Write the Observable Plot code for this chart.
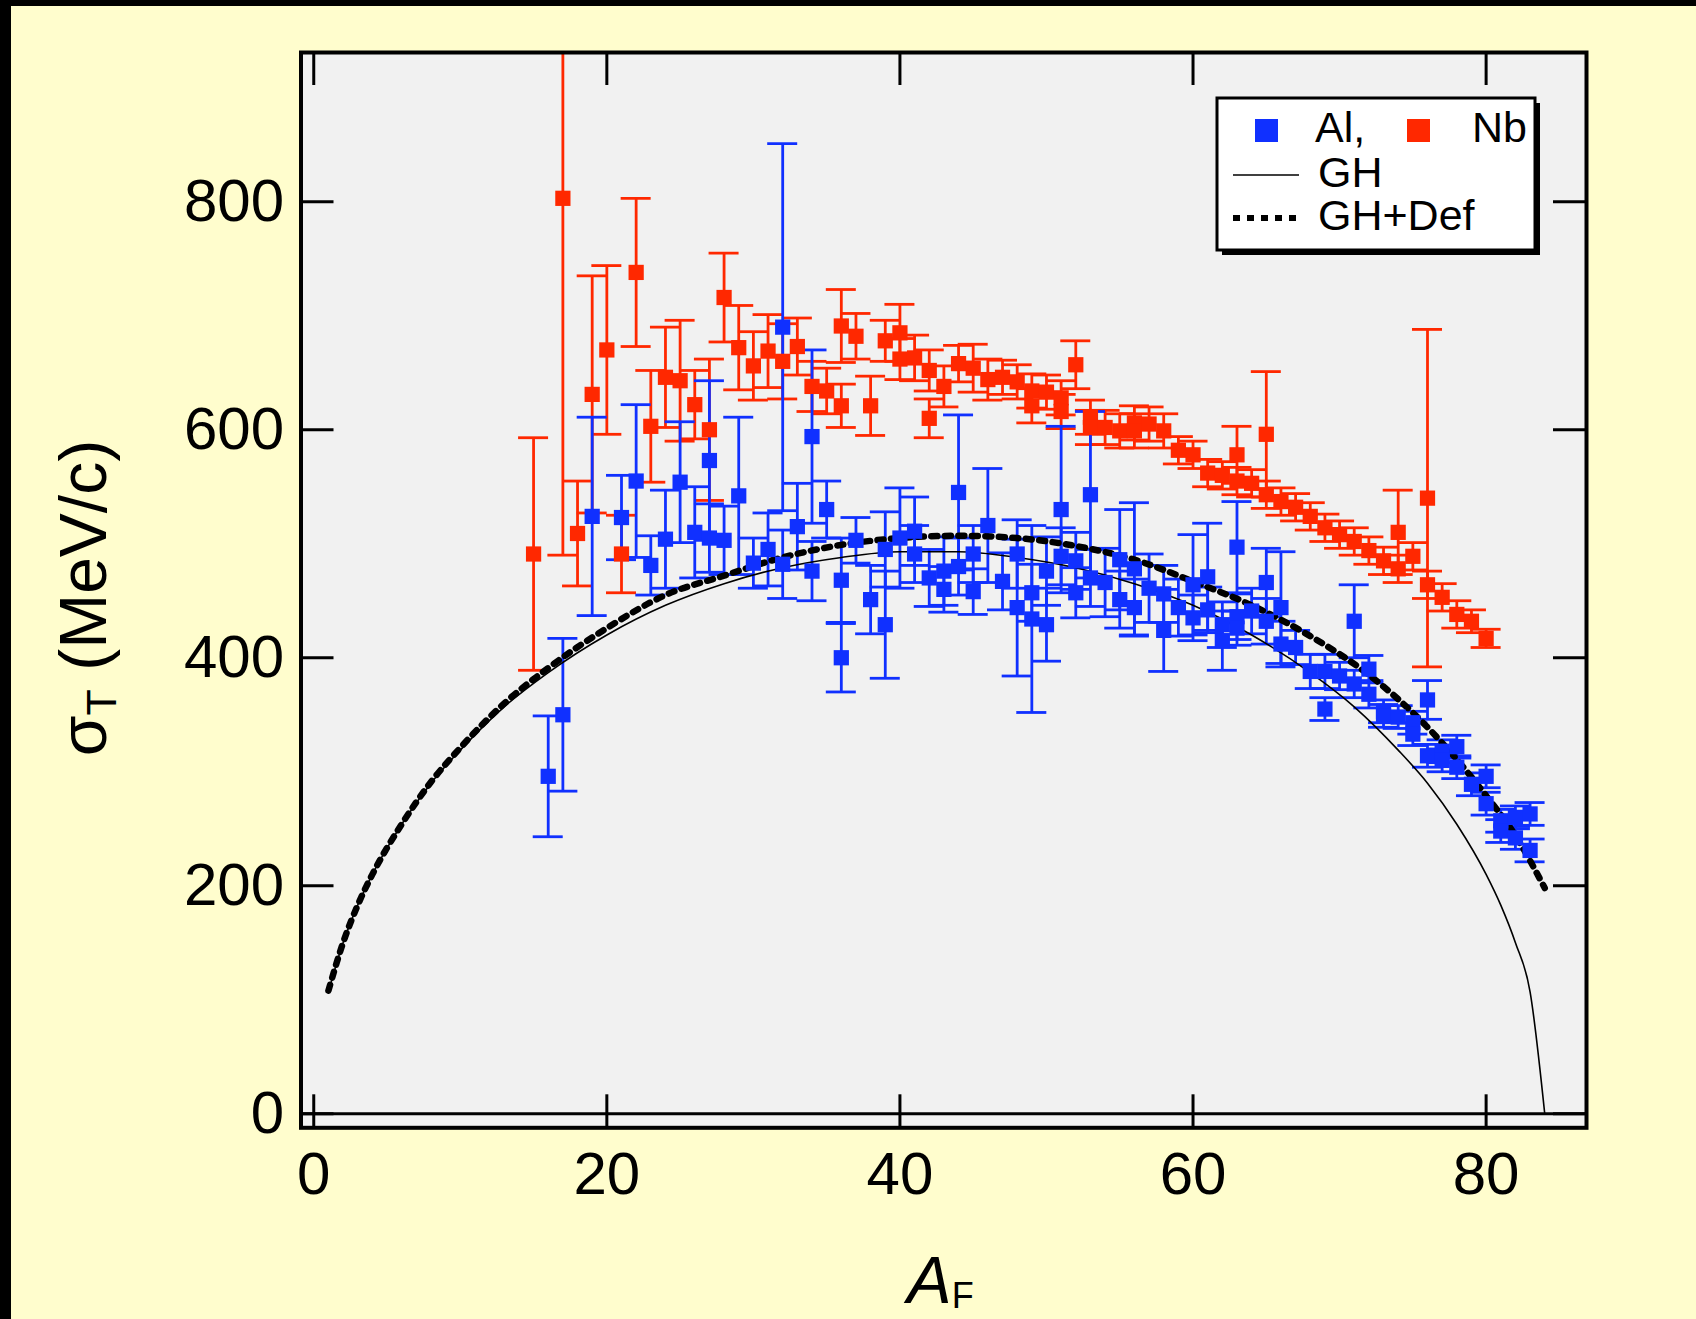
<!DOCTYPE html>
<html><head><meta charset="utf-8">
<script src="https://cdn.jsdelivr.net/npm/d3@7"></script>
<script src="https://cdn.jsdelivr.net/npm/@observablehq/plot@0.6"></script>
<style>
html,body{margin:0;padding:0;}
body{width:1696px;height:1319px;background:#fffdcd;position:relative;overflow:hidden;font-family:"Liberation Sans",Arial,Helvetica,sans-serif;}
#chart{position:absolute;left:0;top:0;}
.bt{position:absolute;left:0;top:0;width:1696px;height:6px;background:#000;}
.bl{position:absolute;left:0;top:0;width:11px;height:1319px;background:#000;}
</style></head><body>
<div id="chart"></div><div class="bt"></div><div class="bl"></div>
<script>
// ---- Data: Al (blue) ----
const alX = [16,17,19,21,22,23,24,25,26,27, 27,28,29,30,31,32,32,33,34,34, 35,36,36,37,38,39,39,40,41,41, 42,43,43,44,44,45,45,46,47,48, 48,49,49,50,50,51,51,52,52,53, 53,54,55,55,56,56,57,58,58,59, 60,60,61,61,62,62,63,63,63,64, 65,65,66,66,67,68,69,69,70,71, 71,72,72,73,73,74,75,75,76,76, 77,77,78,78,79,80,80,81,81,82, 82,83,83];
const alY = [296,350,524,523,555,481,504,554,510,573, 505,503,542,483,495,690,482,515,594,476, 530,400,468,503,451,429,495,505,511,491, 470,476,460,545,480,491,458,516,467,491, 444,457,434,476,429,530,489,485,457,543, 470,466,486,451,478,444,461,456,424,444, 464,435,471,442,429,415,497,436,426,441, 466,432,444,412,409,388,388,355,384,432, 377,390,368,353,349,348,343,333,363,314, 318,310,322,304,289,296,272,257,248,260, 242,263,231];
const alErr = [53,67,87,37,67,26,43,53,40,70, 30,30,69,22,32,161,30,38,76,26, 25,30,37,20,30,47,33,44,30,25, 25,30,20,68,25,25,20,50,25,30, 60,25,82,30,32,73,25,25,22,73, 25,30,44,25,58,25,30,25,36,25, 44,20,47,20,20,26,40,20,15,20, 30,20,49,20,15,15,15,10,12,32, 12,12,12,10,10,10,10,10,17,10, 10,10,10,10,10,10,10,10,10,10, 10,10,10];

// ---- Data: Nb (red) ----
const nbX = [15,17,18,19,20,21,22,23,24,25, 26,27,28,29,30,31,32,33,34,35, 36,36,37,38,39,40,40,41,42,42, 43,44,45,46,47,48,49,49,50,51, 51,52,53,53,54,55,56,56,57,58, 59,60,61,62,63,63,64,65,65,66, 67,68,69,70,71,72,73,74,74,75, 76,76,77,78,79,80];
const nbY = [491,803,509,631,670,491,738,603,646,643, 622,600,716,672,656,669,660,673,638,634, 691,621,682,621,678,685,662,663,652,610, 638,658,654,644,646,642,634,621,633,628, 616,657,611,602,602,599,606,599,605,599, 582,578,562,560,578,555,553,596,543,537, 532,524,514,508,502,494,485,510,478,489, 540,464,453,438,432,417];
const nbErr = [102,313,46,104,74,34,65,49,44,53, 30,62,39,37,30,32,33,25,22,20, 32,19,20,26,18,25,18,20,18,17, 18,16,21,18,15,15,15,15,15,15, 15,21,15,15,15,15,15,15,15,15, 12,12,12,12,25,12,12,55,12,12, 12,12,12,12,12,12,12,37,12,12, 148,12,12,12,10,8];

// ---- Curves ----
const ghX = [1,2,3,4,5,6,8,10,13,16,20,24,28,32,36,40,44,48,52,56,60,64,68,71,74,76,78,80,81,82,83,84];
const ghY = [107,150,183,210,233,254,290,319,357,387,420,446,465,479,488,493,493,488,479,465,446,420,387,357,319,290,254,210,183,150,107,0];
const defX = [1,2,3,4,6,8,10,13,16,20,24,28,32,36,40,44,48,52,56,60,64,68,72,76,80,82,84];
const defY = [108,150,183,210,254,291,321,360,391,426,455,472,488,499,505,507,505,498,486,467,446,419,385,339,279,244,198];

// ---- Axes ----
const xTicks = [0,20,40,60,80];
const yTicks = [0,200,400,600,800];

const W = 1696, H = 1319;
const mL = 300.5, mR = 110, mT = 52, mB = 191.7;
const frameW = W - mL - mR, frameH = H - mT - mB;
const TICK = 33;
const BLUE = "#1030ff", RED = "#ff2800";
const FONT = "Liberation Sans, Arial, Helvetica, sans-serif";

const al = alX.map((x,i)=>({x, y: alY[i], e: alErr[i]}));
const nb = nbX.map((x,i)=>({x, y: nbY[i], e: nbErr[i]}));
const gh = ghX.map((x,i)=>({x, y: ghY[i]}));
const df = defX.map((x,i)=>({x, y: defY[i]}));

function errMarks(data, color) {
  return [
    Plot.ruleX(data, {x: "x", y1: d=>d.y-d.e, y2: d=>d.y+d.e, stroke: color, strokeWidth: 2.8, clip: true}),
    Plot.ruleY(data, {y: d=>d.y+d.e, x1: "x", x2: "x", insetLeft: -15, insetRight: -15, stroke: color, strokeWidth: 2.8, clip: true}),
    Plot.ruleY(data, {y: d=>d.y-d.e, x1: "x", x2: "x", insetLeft: -15, insetRight: -15, stroke: color, strokeWidth: 2.8, clip: true})
  ];
}

const chart = Plot.plot({
  width: W, height: H,
  marginLeft: mL, marginRight: mR, marginTop: mT, marginBottom: mB,
  x: {domain: [-0.87, 86.85], axis: null},
  y: {domain: [-12.3, 930.9], axis: null},
  style: {background: "transparent", fontFamily: FONT, overflow: "visible"},
  marks: [
    Plot.frame({fill: "#f1f1f1", stroke: "none"}),
    Plot.ruleY([0], {stroke: "black", strokeWidth: 3}),
    ...errMarks(nb, RED),
    ...errMarks(al, BLUE),
    Plot.line(gh, {x: "x", y: "y", stroke: "black", strokeWidth: 1.6, curve: "monotone-x"}),
    Plot.line(df, {x: "x", y: "y", stroke: "black", strokeWidth: 6.5, strokeDasharray: "6 7.5", curve: "monotone-x"}),
    Plot.dot(nb, {x: "x", y: "y", symbol: "square", r: 8.6, fill: RED, stroke: "none"}),
    Plot.dot(al, {x: "x", y: "y", symbol: "square", r: 8.6, fill: BLUE, stroke: "none"}),
    Plot.tickX(xTicks, {x: d=>d, insetTop: frameH - TICK, stroke: "black", strokeWidth: 3}),
    Plot.tickX(xTicks, {x: d=>d, insetBottom: frameH - TICK, stroke: "black", strokeWidth: 3}),
    Plot.tickY(yTicks, {y: d=>d, insetRight: frameW - TICK, stroke: "black", strokeWidth: 3}),
    Plot.tickY(yTicks, {y: d=>d, insetLeft: frameW - TICK, stroke: "black", strokeWidth: 3}),
    Plot.text(xTicks, {x: d=>d, text: d=>String(d), frameAnchor: "bottom", lineAnchor: "bottom", dy: 66, fontSize: 60, fill: "black"}),
    Plot.text(yTicks, {y: d=>d, text: d=>String(d), frameAnchor: "left", textAnchor: "end", dx: -17, fontSize: 60, fill: "black"}),
    Plot.frame({stroke: "black", strokeWidth: 4})
  ]
});
document.getElementById("chart").appendChild(chart);

const svg = d3.select(chart);
// Y label
const yl = svg.append("text").attr("transform", "translate(106,598) rotate(-90)")
  .attr("text-anchor", "middle").attr("font-size", 66).attr("font-family", FONT).attr("fill", "black");
yl.append("tspan").text("σ");
yl.append("tspan").attr("font-size", 43).attr("dy", 10).text("T");
yl.append("tspan").attr("dy", -10).text(" (MeV/c)");
// X label
const xl = svg.append("text").attr("x", 907).attr("y", 1303).attr("text-anchor", "start")
  .attr("font-size", 67).attr("font-family", FONT).attr("fill", "black");
xl.append("tspan").attr("font-style", "italic").text("A");
xl.append("tspan").attr("font-size", 36).attr("dy", 5).text("F");

// Legend
const lg = svg.append("g").attr("font-family", FONT).attr("font-size", 43).attr("fill", "black").attr("text-anchor", "start");
lg.append("rect").attr("x", 1222).attr("y", 103).attr("width", 318).attr("height", 152).attr("fill", "black");
lg.append("rect").attr("x", 1217).attr("y", 98).attr("width", 318).attr("height", 152).attr("fill", "white").attr("stroke", "black").attr("stroke-width", 3);
lg.append("rect").attr("x", 1255).attr("y", 119).attr("width", 23).attr("height", 23).attr("fill", BLUE);
lg.append("text").attr("x", 1315).attr("y", 142).attr("text-anchor", "start").text("Al,");
lg.append("rect").attr("x", 1407).attr("y", 119).attr("width", 23).attr("height", 23).attr("fill", RED);
lg.append("text").attr("x", 1472).attr("y", 142).attr("text-anchor", "start").text("Nb");
lg.append("line").attr("x1", 1233).attr("x2", 1299).attr("y1", 175).attr("y2", 175).attr("stroke", "black").attr("stroke-width", 1.6);
lg.append("text").attr("x", 1318).attr("y", 187).attr("text-anchor", "start").text("GH");
lg.append("line").attr("x1", 1233).attr("x2", 1299).attr("y1", 218).attr("y2", 218).attr("stroke", "black").attr("stroke-width", 6).attr("stroke-dasharray", "7 7");
lg.append("text").attr("x", 1318).attr("y", 230).attr("text-anchor", "start").text("GH+Def");
</script>
</body></html>
